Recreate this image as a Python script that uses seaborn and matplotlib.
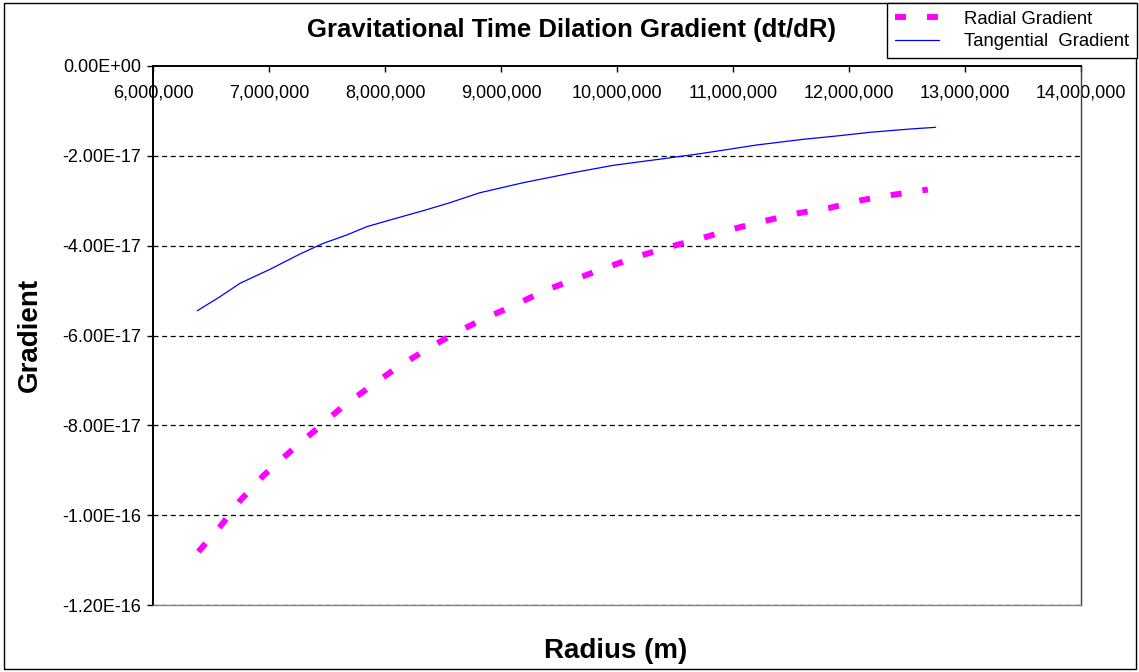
import numpy as np
import pandas as pd
import matplotlib
matplotlib.use("Agg")
import matplotlib.pyplot as plt
from matplotlib.patches import Rectangle
import seaborn as sns

# ---- data ----
radius_tan = [6.382e6, 6.578e6, 6.750e6, 7.009e6, 7.267e6, 7.468e6, 7.670e6, 7.842e6,
              8.043e6, 8.330e6, 8.560e6, 8.819e6, 9.192e6, 9.623e6, 9.968e6, 10.399e6,
              10.716e6, 11.204e6, 11.606e6, 11.894e6, 12.181e6, 12.526e6, 12.747e6]
grad_tan = [-5.448e-17, -5.136e-17, -4.838e-17, -4.526e-17, -4.186e-17, -3.948e-17, -3.763e-17,
            -3.578e-17, -3.429e-17, -3.221e-17, -3.043e-17, -2.821e-17, -2.598e-17, -2.375e-17,
            -2.211e-17, -2.064e-17, -1.953e-17, -1.759e-17, -1.632e-17, -1.558e-17, -1.476e-17,
            -1.403e-17, -1.365e-17]

radius_rad = [6.391e6, 6.578e6, 6.756e6, 6.957e6, 7.181e6, 7.411e6, 7.641e6, 7.871e6,
              8.095e6, 8.339e6, 8.575e6, 8.842e6, 9.121e6, 9.382e6, 9.661e6, 9.928e6,
              10.192e6, 10.472e6, 10.744e6, 11.009e6, 11.282e6, 11.558e6, 11.830e6,
              12.101e6, 12.368e6, 12.680e6]
grad_rad = [-10.813e-17, -10.257e-17, -9.662e-17, -9.106e-17, -8.587e-17, -8.082e-17, -7.570e-17,
            -7.140e-17, -6.730e-17, -6.338e-17, -5.989e-17, -5.639e-17, -5.321e-17, -4.994e-17,
            -4.726e-17, -4.468e-17, -4.230e-17, -4.014e-17, -3.823e-17, -3.622e-17, -3.444e-17,
            -3.279e-17, -3.161e-17, -2.990e-17, -2.872e-17, -2.750e-17]

x_ticks = [6e6, 7e6, 8e6, 9e6, 10e6, 11e6, 12e6, 13e6, 14e6]
x_ticklabels = ["6,000,000", "7,000,000", "8,000,000", "9,000,000", "10,000,000",
                "11,000,000", "12,000,000", "13,000,000", "14,000,000"]
y_ticks = [0, -2e-17, -4e-17, -6e-17, -8e-17, -1e-16, -1.2e-16]
y_ticklabels = ["0.00E+00", "-2.00E-17", "-4.00E-17", "-6.00E-17", "-8.00E-17",
                "-1.00E-16", "-1.20E-16"]

title = "Gravitational Time Dilation Gradient (dt/dR)"
xlabel = "Radius (m)"
ylabel = "Gradient"
label_rad = "Radial Gradient"
label_tan = "Tangential  Gradient"

# ---- styling ----
sns.set_style("white")
plt.rcParams["font.family"] = ["Liberation Sans", "DejaVu Sans"]
plt.rcParams["lines.scale_dashes"] = False
plt.rcParams["text.color"] = "black"
plt.rcParams["xtick.color"] = "black"
plt.rcParams["ytick.color"] = "black"
plt.rcParams["xtick.labelcolor"] = "black"
plt.rcParams["ytick.labelcolor"] = "black"

W, H = 1139, 672
fig = plt.figure(figsize=(W / 100, H / 100), dpi=100)
fig.patch.set_facecolor("white")

L, R, T, B = 153, 1081, 66, 605
ax = fig.add_axes([L / W, 1 - B / H, (R - L) / W, (B - T) / H])

df_rad = pd.DataFrame({"r": radius_rad, "g": grad_rad})
df_tan = pd.DataFrame({"r": radius_tan, "g": grad_tan})

sns.lineplot(data=df_rad, x="r", y="g", ax=ax, color="#FF00FF", lw=4.3,
             sort=False, estimator=None, label=label_rad)
line_rad = ax.lines[-1]
line_rad.set_linestyle((0, (7.9, 15.1)))
line_rad.set_dash_capstyle("butt")

sns.lineplot(data=df_tan, x="r", y="g", ax=ax, color="#0000FF", lw=0.9,
             sort=False, estimator=None, label=label_tan)

ax.set_xlim(6e6, 14e6)
ax.set_ylim(-1.2e-16, 0)
ax.set_xticks(x_ticks)
ax.set_xticklabels(x_ticklabels)
ax.set_yticks(y_ticks)
ax.set_yticklabels(y_ticklabels)
ax.set_xlabel("")
ax.set_ylabel("")

# x ticks on top axis, labels just below the axis line
ax.tick_params(axis="x", which="major", top=True, bottom=False, labeltop=True,
               labelbottom=False, direction="in", length=4, width=1,
               color="black", labelcolor="black", labelsize=13, pad=-25.3)
ax.tick_params(axis="y", which="major", left=True, direction="out", length=4.3,
               width=1, color="black", labelcolor="black", labelsize=13, pad=4.5)

# grid lines
for yv in y_ticks[1:]:
    ax.axhline(yv, color="black", lw=0.9, ls=(0, (3.6, 2.6)), zorder=1)

for side in ["left", "top"]:
    ax.spines[side].set_color("black")
    ax.spines[side].set_linewidth(1.4)
ax.spines["right"].set_color("#404040")
ax.spines["right"].set_linewidth(1.0)
ax.spines["bottom"].set_color("#808080")
ax.spines["bottom"].set_linewidth(1.0)

if ax.get_legend() is not None:
    ax.get_legend().remove()

handles, labels = ax.get_legend_handles_labels()
leg = fig.legend(handles, labels, loc="upper left",
                 bbox_to_anchor=(887 / W, 1 - 3 / H), borderaxespad=0,
                 fontsize=13.3, frameon=True, fancybox=False, shadow=False,
                 edgecolor="black", framealpha=1, handlelength=2.4,
                 handletextpad=1.36, labelspacing=0.3, borderpad=0.42)
leg.get_frame().set_linewidth(1.0)
for t in leg.get_texts():
    t.set_color("black")

fig.text(571.5 / W, 1 - 37 / H, title, ha="center", va="baseline",
         fontsize=18.5, fontweight="bold", color="black")
fig.text(616 / W, 1 - 658 / H, xlabel, ha="center", va="baseline",
         fontsize=20, fontweight="bold", color="black")
fig.text(30 / W, 1 - 335 / H, ylabel, ha="center", va="center", rotation=90,
         fontsize=20, fontweight="bold", color="black")

# outer chart border
fig.add_artist(Rectangle((4 / W, 1 - 669 / H), (1136 - 4) / W, (669 - 3) / H,
                         transform=fig.transFigure, fill=False,
                         edgecolor="black", lw=1.0, zorder=0))

fig.savefig("out.png", dpi=100)
